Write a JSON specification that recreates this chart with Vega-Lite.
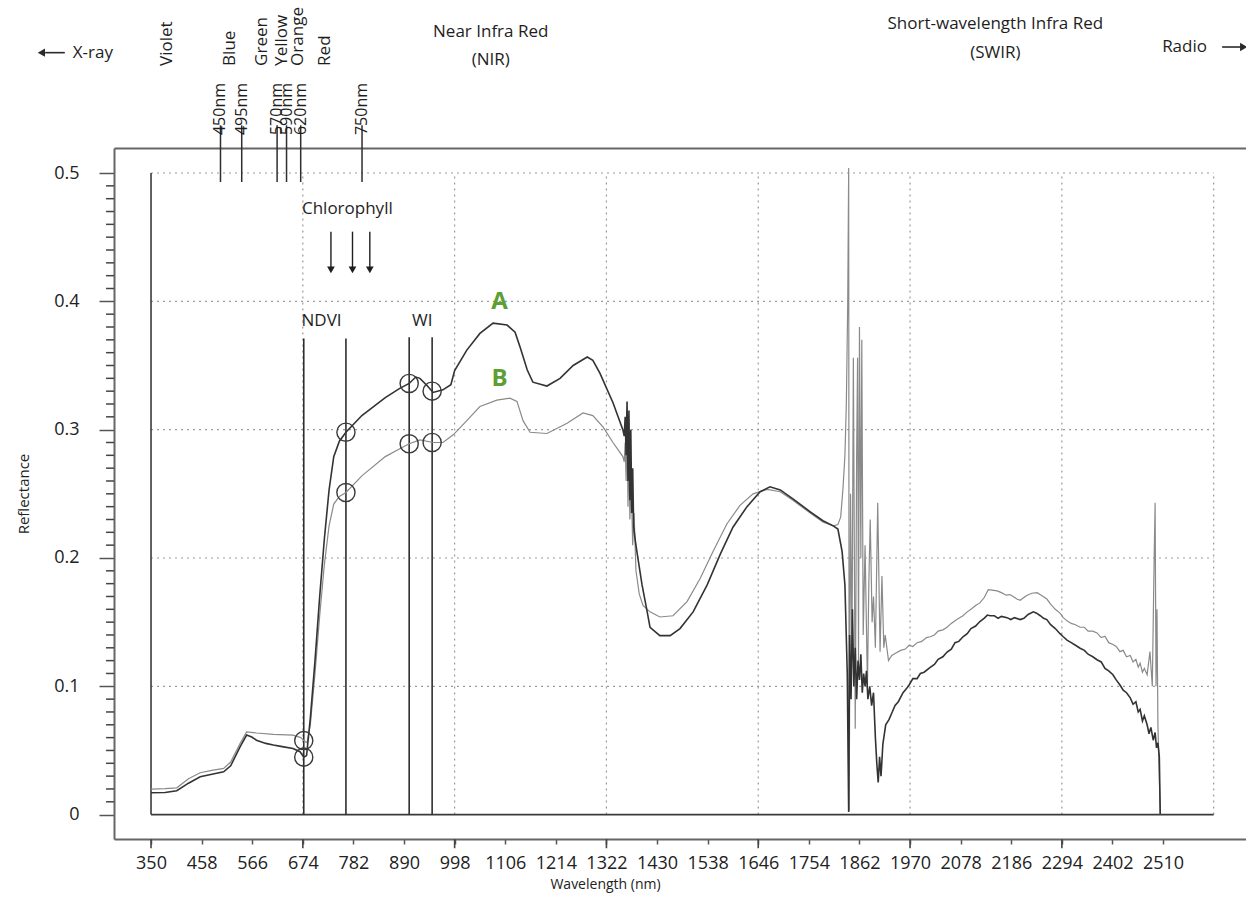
{
  "$schema": "https://vega.github.io/schema/vega-lite/v6.json",
  "width": 1132,
  "height": 691,
  "autosize": {"type": "none"},
  "padding": {"left": 114, "top": 148, "right": 0, "bottom": 62},
  "background": "white",
  "config": {
    "view": {"stroke": null},
    "font": "Open Sans",
    "axis": {
      "domainColor": "#666666",
      "domainWidth": 2,
      "tickColor": "#555555",
      "tickWidth": 1.5,
      "labelFont": "Open Sans",
      "titleFont": "Open Sans",
      "labelColor": "#222222",
      "titleColor": "#222222",
      "titleFontWeight": "normal",
      "grid": false
    }
  },
  "datasets": {
    "spectrumA": [
      {"w":350,"r":0.017},{"w":380,"r":0.0172},{"w":405,"r":0.0186},{"w":430,"r":0.0245},
      {"w":455,"r":0.0295},{"w":480,"r":0.0315},{"w":505,"r":0.0334},{"w":520,"r":0.038},
      {"w":540,"r":0.0528},{"w":554,"r":0.062},{"w":565,"r":0.0605},{"w":575,"r":0.058},
      {"w":595,"r":0.0555},{"w":611,"r":0.0542},{"w":630,"r":0.053},{"w":653,"r":0.0516},
      {"w":668,"r":0.049},{"w":676,"r":0.0448},{"w":682,"r":0.046},{"w":690,"r":0.075},
      {"w":700,"r":0.12},{"w":710,"r":0.17},{"w":720,"r":0.215},{"w":730,"r":0.253},
      {"w":740,"r":0.279},{"w":752,"r":0.291},{"w":766,"r":0.298},{"w":800,"r":0.311},
      {"w":850,"r":0.325},{"w":880,"r":0.332},{"w":901,"r":0.336},{"w":915,"r":0.341},
      {"w":924,"r":0.34},{"w":940,"r":0.334},{"w":952,"r":0.329},{"w":973,"r":0.331},
      {"w":990,"r":0.335},{"w":998,"r":0.346},{"w":1024,"r":0.362},{"w":1052,"r":0.375},
      {"w":1080,"r":0.383},{"w":1110,"r":0.3815},{"w":1127,"r":0.376},{"w":1138,"r":0.364},
      {"w":1153,"r":0.3465},{"w":1165,"r":0.337},{"w":1195,"r":0.334},{"w":1223,"r":0.34},
      {"w":1251,"r":0.35},{"w":1281,"r":0.3566},{"w":1293,"r":0.354},{"w":1308,"r":0.344},
      {"w":1336,"r":0.321},{"w":1357,"r":0.3},{"w":1360,"r":0.295},{"w":1362,"r":0.31},
      {"w":1364,"r":0.28},{"w":1366,"r":0.322},{"w":1368,"r":0.26},{"w":1370,"r":0.315},
      {"w":1372,"r":0.245},{"w":1374,"r":0.3},{"w":1376,"r":0.235},{"w":1378,"r":0.27},
      {"w":1380,"r":0.225},{"w":1383,"r":0.215},{"w":1387,"r":0.205},{"w":1398,"r":0.179},
      {"w":1409,"r":0.158},{"w":1415,"r":0.146},{"w":1436,"r":0.1395},{"w":1458,"r":0.1395},
      {"w":1479,"r":0.145},{"w":1507,"r":0.158},{"w":1537,"r":0.179},{"w":1565,"r":0.203},
      {"w":1592,"r":0.224},{"w":1622,"r":0.24},{"w":1650,"r":0.2516},{"w":1671,"r":0.2555},
      {"w":1693,"r":0.253},{"w":1720,"r":0.246},{"w":1757,"r":0.236},{"w":1784,"r":0.229},
      {"w":1806,"r":0.225},{"w":1816,"r":0.2226},{"w":1825,"r":0.205},{"w":1831,"r":0.179},
      {"w":1836,"r":0.11},{"w":1839,"r":0.002},{"w":1841,"r":0.14},{"w":1844,"r":0.09},
      {"w":1847,"r":0.16},{"w":1850,"r":0.1},{"w":1853,"r":0.13},{"w":1856,"r":0.09},
      {"w":1859,"r":0.12},{"w":1862,"r":0.105},{"w":1865,"r":0.125},{"w":1868,"r":0.095},
      {"w":1871,"r":0.11},{"w":1874,"r":0.1},{"w":1877,"r":0.112},{"w":1880,"r":0.09},
      {"w":1884,"r":0.1},{"w":1888,"r":0.085},{"w":1892,"r":0.095},{"w":1896,"r":0.06},
      {"w":1899,"r":0.04},{"w":1902,"r":0.025},{"w":1905,"r":0.045},{"w":1908,"r":0.03},
      {"w":1912,"r":0.055},{"w":1918,"r":0.07},{"w":1925,"r":0.074},{"w":1932,"r":0.08},
      {"w":1938,"r":0.085},{"w":1945,"r":0.088},{"w":1955,"r":0.095},{"w":1962,"r":0.098},
      {"w":1968,"r":0.101},{"w":1976,"r":0.106},{"w":1985,"r":0.106},{"w":1992,"r":0.11},
      {"w":2000,"r":0.111},{"w":2013,"r":0.1148},{"w":2022,"r":0.117},{"w":2030,"r":0.121},
      {"w":2040,"r":0.123},{"w":2049,"r":0.1267},{"w":2058,"r":0.129},{"w":2066,"r":0.134},
      {"w":2074,"r":0.135},{"w":2083,"r":0.1386},{"w":2092,"r":0.141},{"w":2100,"r":0.145},
      {"w":2110,"r":0.147},{"w":2119,"r":0.1505},{"w":2128,"r":0.153},{"w":2135,"r":0.1555},
      {"w":2141,"r":0.155},{"w":2150,"r":0.155},{"w":2158,"r":0.153},{"w":2165,"r":0.1545},
      {"w":2177,"r":0.1535},{"w":2185,"r":0.152},{"w":2193,"r":0.1535},{"w":2205,"r":0.152},
      {"w":2213,"r":0.153},{"w":2222,"r":0.156},{"w":2233,"r":0.158},{"w":2240,"r":0.157},
      {"w":2248,"r":0.155},{"w":2255,"r":0.153},{"w":2262,"r":0.152},{"w":2270,"r":0.148},
      {"w":2280,"r":0.145},{"w":2290,"r":0.141},{"w":2297,"r":0.1386},{"w":2305,"r":0.136},
      {"w":2314,"r":0.134},{"w":2323,"r":0.132},{"w":2333,"r":0.1297},{"w":2342,"r":0.128},
      {"w":2350,"r":0.125},{"w":2360,"r":0.123},{"w":2369,"r":0.1207},{"w":2378,"r":0.119},
      {"w":2386,"r":0.114},{"w":2394,"r":0.112},{"w":2403,"r":0.109},{"w":2410,"r":0.105},
      {"w":2418,"r":0.101},{"w":2425,"r":0.097},{"w":2432,"r":0.095},{"w":2440,"r":0.091},
      {"w":2446,"r":0.086},{"w":2452,"r":0.088},{"w":2457,"r":0.08},{"w":2461,"r":0.082},
      {"w":2466,"r":0.073},{"w":2470,"r":0.077},{"w":2476,"r":0.07},{"w":2480,"r":0.063},
      {"w":2484,"r":0.068},{"w":2489,"r":0.058},{"w":2493,"r":0.064},{"w":2496,"r":0.052},
      {"w":2499,"r":0.056},{"w":2502,"r":0.045},{"w":2504,"r":0.0}
    ],
    "spectrumB": [
      {"w":350,"r":0.0199},{"w":380,"r":0.0202},{"w":405,"r":0.0209},{"w":430,"r":0.028},
      {"w":455,"r":0.0326},{"w":480,"r":0.0345},{"w":505,"r":0.036},{"w":520,"r":0.041},
      {"w":540,"r":0.0554},{"w":554,"r":0.0645},{"w":575,"r":0.0636},{"w":611,"r":0.0625},
      {"w":653,"r":0.0619},{"w":670,"r":0.06},{"w":676,"r":0.0577},{"w":683,"r":0.056},
      {"w":690,"r":0.07},{"w":700,"r":0.11},{"w":710,"r":0.155},{"w":720,"r":0.195},
      {"w":730,"r":0.225},{"w":740,"r":0.242},{"w":752,"r":0.248},{"w":766,"r":0.251},
      {"w":800,"r":0.264},{"w":850,"r":0.279},{"w":880,"r":0.285},{"w":901,"r":0.289},
      {"w":924,"r":0.292},{"w":952,"r":0.29},{"w":973,"r":0.29},{"w":995,"r":0.296},
      {"w":1024,"r":0.307},{"w":1052,"r":0.318},{"w":1088,"r":0.323},{"w":1116,"r":0.3245},
      {"w":1131,"r":0.322},{"w":1144,"r":0.307},{"w":1159,"r":0.298},{"w":1195,"r":0.297},
      {"w":1238,"r":0.305},{"w":1272,"r":0.313},{"w":1293,"r":0.311},{"w":1315,"r":0.302},
      {"w":1336,"r":0.29},{"w":1357,"r":0.279},{"w":1360,"r":0.275},{"w":1362,"r":0.29},
      {"w":1364,"r":0.26},{"w":1366,"r":0.3},{"w":1368,"r":0.24},{"w":1370,"r":0.285},
      {"w":1372,"r":0.23},{"w":1375,"r":0.26},{"w":1378,"r":0.21},{"w":1381,"r":0.235},
      {"w":1385,"r":0.19},{"w":1392,"r":0.172},{"w":1400,"r":0.163},{"w":1415,"r":0.158},
      {"w":1436,"r":0.154},{"w":1464,"r":0.155},{"w":1494,"r":0.166},{"w":1522,"r":0.184},
      {"w":1550,"r":0.2055},{"w":1579,"r":0.2265},{"w":1607,"r":0.241},{"w":1635,"r":0.25},
      {"w":1665,"r":0.2534},{"w":1693,"r":0.2516},{"w":1720,"r":0.245},{"w":1757,"r":0.235},
      {"w":1784,"r":0.228},{"w":1806,"r":0.225},{"w":1816,"r":0.226},{"w":1822,"r":0.232},
      {"w":1827,"r":0.255},{"w":1831,"r":0.28},{"w":1834,"r":0.32},{"w":1837,"r":0.4},
      {"w":1839,"r":0.504},{"w":1840,"r":0.003},{"w":1843,"r":0.25},{"w":1846,"r":0.12},
      {"w":1849,"r":0.356},{"w":1853,"r":0.067},{"w":1856,"r":0.28},{"w":1858,"r":0.356},
      {"w":1860,"r":0.12},{"w":1862,"r":0.38},{"w":1865,"r":0.2},{"w":1867,"r":0.37},
      {"w":1870,"r":0.14},{"w":1874,"r":0.21},{"w":1879,"r":0.1},{"w":1882,"r":0.18},
      {"w":1885,"r":0.23},{"w":1889,"r":0.15},{"w":1892,"r":0.17},{"w":1896,"r":0.13},
      {"w":1901,"r":0.243},{"w":1906,"r":0.127},{"w":1910,"r":0.186},{"w":1914,"r":0.13},
      {"w":1917,"r":0.14},{"w":1924,"r":0.12},{"w":1931,"r":0.124},{"w":1940,"r":0.126},
      {"w":1950,"r":0.128},{"w":1960,"r":0.129},{"w":1968,"r":0.132},{"w":1976,"r":0.131},
      {"w":1985,"r":0.134},{"w":1995,"r":0.135},{"w":2005,"r":0.138},{"w":2013,"r":0.1386},
      {"w":2022,"r":0.14},{"w":2030,"r":0.143},{"w":2040,"r":0.144},{"w":2049,"r":0.146},
      {"w":2058,"r":0.149},{"w":2066,"r":0.151},{"w":2074,"r":0.153},{"w":2083,"r":0.155},
      {"w":2092,"r":0.158},{"w":2100,"r":0.16},{"w":2110,"r":0.163},{"w":2119,"r":0.165},
      {"w":2128,"r":0.169},{"w":2137,"r":0.1753},{"w":2145,"r":0.175},{"w":2156,"r":0.1744},
      {"w":2165,"r":0.173},{"w":2175,"r":0.171},{"w":2183,"r":0.1715},{"w":2190,"r":0.17},
      {"w":2198,"r":0.168},{"w":2205,"r":0.167},{"w":2212,"r":0.169},{"w":2220,"r":0.171},
      {"w":2230,"r":0.1725},{"w":2241,"r":0.173},{"w":2250,"r":0.171},{"w":2262,"r":0.168},
      {"w":2270,"r":0.164},{"w":2280,"r":0.16},{"w":2290,"r":0.157},{"w":2297,"r":0.1535},
      {"w":2305,"r":0.151},{"w":2314,"r":0.149},{"w":2323,"r":0.148},{"w":2333,"r":0.146},
      {"w":2342,"r":0.146},{"w":2350,"r":0.143},{"w":2360,"r":0.143},{"w":2369,"r":0.1416},
      {"w":2378,"r":0.138},{"w":2386,"r":0.139},{"w":2394,"r":0.134},{"w":2403,"r":0.1326},
      {"w":2410,"r":0.131},{"w":2418,"r":0.127},{"w":2425,"r":0.128},{"w":2432,"r":0.123},
      {"w":2440,"r":0.124},{"w":2446,"r":0.119},{"w":2452,"r":0.121},{"w":2457,"r":0.115},
      {"w":2461,"r":0.118},{"w":2466,"r":0.111},{"w":2470,"r":0.114},{"w":2476,"r":0.109},
      {"w":2482,"r":0.127},{"w":2487,"r":0.1},{"w":2491,"r":0.2},{"w":2493,"r":0.243},
      {"w":2495,"r":0.1},{"w":2497,"r":0.16},{"w":2499,"r":0.07},{"w":2504,"r":0.0}
    ],
    "gridH": [
      {"v":0.1,"w0":350,"w1":2618},{"v":0.2,"w0":350,"w1":2618},{"v":0.3,"w0":350,"w1":2618},
      {"v":0.4,"w0":350,"w1":2618},{"v":0.5,"w0":350,"w1":2618}
    ],
    "gridV": [
      {"w":674,"r0":0,"r1":0.5},{"w":998,"r0":0,"r1":0.5},{"w":1322,"r0":0,"r1":0.5},{"w":1646,"r0":0,"r1":0.5},
      {"w":1970,"r0":0,"r1":0.5},{"w":2294,"r0":0,"r1":0.5},{"w":2618,"r0":0,"r1":0.5}
    ],
    "minorTicksY": [
      {"v":0.01,"a":254,"b":271},{"v":0.02,"a":254,"b":271},{"v":0.03,"a":254,"b":271},{"v":0.04,"a":254,"b":271},
      {"v":0.05,"a":254,"b":271},{"v":0.06,"a":254,"b":271},{"v":0.07,"a":254,"b":271},{"v":0.08,"a":254,"b":271},
      {"v":0.09,"a":254,"b":271},{"v":0.11,"a":254,"b":271},{"v":0.12,"a":254,"b":271},{"v":0.13,"a":254,"b":271},
      {"v":0.14,"a":254,"b":271},{"v":0.15,"a":254,"b":271},{"v":0.16,"a":254,"b":271},{"v":0.17,"a":254,"b":271},
      {"v":0.18,"a":254,"b":271},{"v":0.19,"a":254,"b":271},{"v":0.21,"a":254,"b":271},{"v":0.22,"a":254,"b":271},
      {"v":0.23,"a":254,"b":271},{"v":0.24,"a":254,"b":271},{"v":0.25,"a":254,"b":271},{"v":0.26,"a":254,"b":271},
      {"v":0.27,"a":254,"b":271},{"v":0.28,"a":254,"b":271},{"v":0.29,"a":254,"b":271},{"v":0.31,"a":254,"b":271},
      {"v":0.32,"a":254,"b":271},{"v":0.33,"a":254,"b":271},{"v":0.34,"a":254,"b":271},{"v":0.35,"a":254,"b":271},
      {"v":0.36,"a":254,"b":271},{"v":0.37,"a":254,"b":271},{"v":0.38,"a":254,"b":271},{"v":0.39,"a":254,"b":271},
      {"v":0.41,"a":254,"b":271},{"v":0.42,"a":254,"b":271},{"v":0.43,"a":254,"b":271},{"v":0.44,"a":254,"b":271},
      {"v":0.45,"a":254,"b":271},{"v":0.46,"a":254,"b":271},{"v":0.47,"a":254,"b":271},{"v":0.48,"a":254,"b":271},
      {"v":0.49,"a":254,"b":271}
    ],
    "majorTicksX": [
      {"w":350,"a":-0.019,"b":-0.0262},{"w":674,"a":-0.019,"b":-0.0262},{"w":998,"a":-0.019,"b":-0.0262},
      {"w":1322,"a":-0.019,"b":-0.0262},{"w":1646,"a":-0.019,"b":-0.0262},{"w":1970,"a":-0.019,"b":-0.0262},
      {"w":2294,"a":-0.019,"b":-0.0262}
    ],
    "plotEdges": [{"w0":350,"w1":2618,"r0":0,"r1":0.5}],
    "indexLines": [
      {"w":676,"r0":0,"top":0.371},{"w":766,"r0":0,"top":0.371},
      {"w":901,"r0":0,"top":0.372},{"w":950,"r0":0,"top":0.372}
    ],
    "circles": [
      {"s":"B","w":676,"r":0.0577},{"s":"A","w":676,"r":0.0448},
      {"s":"A","w":766,"r":0.298},{"s":"B","w":766,"r":0.251},
      {"s":"A","w":901,"r":0.336},{"s":"B","w":901,"r":0.289},
      {"s":"A","w":950,"r":0.33},{"s":"B","w":950,"r":0.29}
    ],
    "notes": [
      {"t":"NDVI","w":714,"r":0.385},
      {"t":"WI","w":929,"r":0.385},
      {"t":"Chlorophyll","w":769,"r":0.4716}
    ],
    "arrows": [
      {"w":734,"r0":0.4543,"r1":0.426,"tip":0.4245},
      {"w":780,"r0":0.4543,"r1":0.426,"tip":0.4245},
      {"w":817,"r0":0.4543,"r1":0.426,"tip":0.4245}
    ],
    "curveLabels": [{"t":"A","w":1094,"r":0.3997},{"t":"B","w":1094,"r":0.3394}],
    "regions": [
      {"t":"Near Infra Red","w":1075,"r":0.6099},
      {"t":"(NIR)","w":1075,"r":0.5877},
      {"t":"Short-wavelength Infra Red","w":2152,"r":0.6158},
      {"t":"(SWIR)","w":2152,"r":0.5932}
    ],
    "ends": [{"t":"X-ray","w":183,"r":0.5938},{"t":"Radio","w":2508,"r":0.5982}],
    "endArrows": [{"w":124,"w2":166,"r":0.5938},{"w":2636,"w2":2684,"r":0.5982}],
    "headLeft": [{"w":116,"r":0.5938}],
    "headRight": [{"w":2682,"r":0.5982}],
    "nmTicks": [
      {"nm":450,"label":"450nm","r0":0.5372,"r1":0.493,"rt":0.5296},
      {"nm":495,"label":"495nm","r0":0.5372,"r1":0.493,"rt":0.5296},
      {"nm":570,"label":"570nm","r0":0.5372,"r1":0.493,"rt":0.5296},
      {"nm":590,"label":"590nm","r0":0.5372,"r1":0.493,"rt":0.5296},
      {"nm":620,"label":"620nm","r0":0.5372,"r1":0.493,"rt":0.5296},
      {"nm":750,"label":"750nm","r0":0.5372,"r1":0.493,"rt":0.5296}
    ],
    "colourNames": [
      {"name":"Violet","c":336,"r":0.5835},{"name":"Blue","c":470,"r":0.5835},{"name":"Green","c":537,"r":0.5835},
      {"name":"Yellow","c":580,"r":0.5835},{"name":"Orange","c":615,"r":0.5835},{"name":"Red","c":671,"r":0.5835}
    ]
  },
  "resolve": {"scale": {"x": "independent"}, "axis": {"x": "independent", "y": "independent"}},
  "layer": [
    {
      "data": {"name": "gridH"},
      "mark": {"type": "rule", "color": "#9a9a9a", "strokeWidth": 1.2, "strokeDash": [2, 4]},
      "encoding": {
        "x": {"field": "w0", "type": "quantitative", "scale": {"domain": [271, 2687], "nice": false, "zero": false}, "axis": null},
        "x2": {"field": "w1"},
        "y": {"field": "v", "type": "quantitative",
              "scale": {"domain": [-0.019, 0.5195], "nice": false, "zero": false}, "axis": null}
      }
    },
    {
      "data": {"name": "gridV"},
      "mark": {"type": "rule", "color": "#9a9a9a", "strokeWidth": 1.2, "strokeDash": [2, 4]},
      "encoding": {
        "x": {"field": "w", "type": "quantitative", "scale": {"domain": [271, 2687], "nice": false, "zero": false}, "axis": null},
        "y": {"field": "r0", "type": "quantitative", "axis": null},
        "y2": {"field": "r1"}
      }
    },
    {
      "data": {"name": "minorTicksY"},
      "mark": {"type": "rule", "color": "#444444", "strokeWidth": 1.5},
      "encoding": {
        "x": {"field": "a", "type": "quantitative", "scale": {"domain": [271, 2687], "nice": false, "zero": false}, "axis": null},
        "x2": {"field": "b"},
        "y": {"field": "v", "type": "quantitative", "axis": null}
      }
    },
    {
      "data": {"name": "majorTicksX"},
      "mark": {"type": "rule", "color": "#444444", "strokeWidth": 1.6},
      "encoding": {
        "x": {"field": "w", "type": "quantitative", "scale": {"domain": [271, 2687], "nice": false, "zero": false}, "axis": null},
        "y": {"field": "a", "type": "quantitative", "axis": null},
        "y2": {"field": "b"}
      }
    },
    {
      "data": {"name": "plotEdges"},
      "mark": {"type": "rule", "color": "#3a3a3a", "strokeWidth": 1.6},
      "encoding": {
        "x": {"field": "w0", "type": "quantitative", "scale": {"domain": [271, 2687], "nice": false, "zero": false},
              "axis": {"orient": "top", "ticks": false, "labels": false, "domain": true, "title": null}},
        "y": {"field": "r0", "type": "quantitative", "axis": null},
        "y2": {"field": "r1"}
      }
    },
    {
      "data": {"name": "plotEdges"},
      "mark": {"type": "rule", "color": "#3a3a3a", "strokeWidth": 1.6},
      "encoding": {
        "x": {"field": "w0", "type": "quantitative", "scale": {"domain": [271, 2687], "nice": false, "zero": false}, "axis": null},
        "x2": {"field": "w1"},
        "y": {"field": "r0", "type": "quantitative", "axis": null}
      }
    },
    {
      "data": {"name": "indexLines"},
      "mark": {"type": "rule", "color": "#2e2e2e", "strokeWidth": 1.6},
      "encoding": {
        "x": {"field": "w", "type": "quantitative", "scale": {"domain": [271, 2687], "nice": false, "zero": false}, "axis": null},
        "y": {"field": "r0", "type": "quantitative", "axis": null},
        "y2": {"field": "top"}
      }
    },
    {
      "data": {"name": "spectrumB"},
      "mark": {"type": "line", "color": "#8a8a8a", "strokeWidth": 1.2},
      "encoding": {
        "x": {"field": "w", "type": "quantitative", "scale": {"domain": [271, 2687], "nice": false, "zero": false}, "axis": null},
        "y": {"field": "r", "type": "quantitative", "axis": null}
      }
    },
    {
      "data": {"name": "spectrumA"},
      "mark": {"type": "line", "color": "#333333", "strokeWidth": 1.6},
      "encoding": {
        "x": {"field": "w", "type": "quantitative",
              "scale": {"domain": [271, 2687], "nice": false, "zero": false},
              "axis": {"orient": "bottom", "values": [350,458,566,674,782,890,998,1106,1214,1322,1430,1538,1646,1754,1862,1970,2078,2186,2294,2402,2510],
                       "format": "d", "tickSize": 5, "labelFontSize": 18, "labelPadding": 10, "labelOverlap": false, "labelFlush": false,
                       "title": "Wavelength (nm)", "titleFontSize": 14, "titlePadding": 5, "titleX": 491}},
        "y": {"field": "r", "type": "quantitative",
              "axis": {"orient": "left", "values": [0, 0.1, 0.2, 0.3, 0.4, 0.5], "format": "~g",
                       "tickSize": 15, "labelFontSize": 18, "labelPadding": 20, "labelOverlap": false, "labelFlush": false,
                       "title": "Reflectance", "titleFontSize": 15, "titlePadding": 22}}
      }
    },
    {
      "data": {"name": "circles"},
      "mark": {"type": "point", "shape": "circle", "filled": false, "size": 330, "stroke": "#3a3a3a", "strokeWidth": 1.4, "opacity": 1},
      "encoding": {
        "x": {"field": "w", "type": "quantitative", "scale": {"domain": [271, 2687], "nice": false, "zero": false}, "axis": null},
        "y": {"field": "r", "type": "quantitative", "axis": null}
      }
    },
    {
      "data": {"name": "notes"},
      "mark": {"type": "text", "fontSize": 17, "align": "center", "baseline": "middle", "color": "#1e1e1e"},
      "encoding": {
        "x": {"field": "w", "type": "quantitative", "scale": {"domain": [271, 2687], "nice": false, "zero": false}, "axis": null},
        "y": {"field": "r", "type": "quantitative", "axis": null},
        "text": {"field": "t", "type": "nominal"}
      }
    },
    {
      "data": {"name": "arrows"},
      "mark": {"type": "rule", "color": "#1e1e1e", "strokeWidth": 1.4},
      "encoding": {
        "x": {"field": "w", "type": "quantitative", "scale": {"domain": [271, 2687], "nice": false, "zero": false}, "axis": null},
        "y": {"field": "r0", "type": "quantitative", "axis": null},
        "y2": {"field": "r1"}
      }
    },
    {
      "data": {"name": "arrows"},
      "mark": {"type": "point", "shape": "triangle-down", "filled": true, "size": 60, "color": "#1e1e1e", "opacity": 1},
      "encoding": {
        "x": {"field": "w", "type": "quantitative", "scale": {"domain": [271, 2687], "nice": false, "zero": false}, "axis": null},
        "y": {"field": "tip", "type": "quantitative", "axis": null}
      }
    },
    {
      "data": {"name": "curveLabels"},
      "mark": {"type": "text", "fontSize": 24, "fontWeight": "bold", "align": "center", "baseline": "middle", "color": "#5e9e32"},
      "encoding": {
        "x": {"field": "w", "type": "quantitative", "scale": {"domain": [271, 2687], "nice": false, "zero": false}, "axis": null},
        "y": {"field": "r", "type": "quantitative", "axis": null},
        "text": {"field": "t", "type": "nominal"}
      }
    },
    {
      "data": {"name": "regions"},
      "mark": {"type": "text", "fontSize": 17, "align": "center", "baseline": "middle", "color": "#1e1e1e"},
      "encoding": {
        "x": {"field": "w", "type": "quantitative", "scale": {"domain": [271, 2687], "nice": false, "zero": false}, "axis": null},
        "y": {"field": "r", "type": "quantitative", "axis": null},
        "text": {"field": "t", "type": "nominal"}
      }
    },
    {
      "data": {"name": "ends"},
      "mark": {"type": "text", "fontSize": 17, "align": "left", "baseline": "middle", "color": "#1e1e1e"},
      "encoding": {
        "x": {"field": "w", "type": "quantitative", "scale": {"domain": [271, 2687], "nice": false, "zero": false}, "axis": null},
        "y": {"field": "r", "type": "quantitative", "axis": null},
        "text": {"field": "t", "type": "nominal"}
      }
    },
    {
      "data": {"name": "endArrows"},
      "mark": {"type": "rule", "color": "#2a2a2a", "strokeWidth": 1.6},
      "encoding": {
        "x": {"field": "w", "type": "quantitative", "scale": {"domain": [271, 2687], "nice": false, "zero": false}, "axis": null},
        "x2": {"field": "w2"},
        "y": {"field": "r", "type": "quantitative", "axis": null}
      }
    },
    {
      "data": {"name": "headLeft"},
      "mark": {"type": "point", "shape": "triangle-left", "filled": true, "size": 70, "color": "#2a2a2a", "opacity": 1},
      "encoding": {
        "x": {"field": "w", "type": "quantitative", "scale": {"domain": [271, 2687], "nice": false, "zero": false}, "axis": null},
        "y": {"field": "r", "type": "quantitative", "axis": null}
      }
    },
    {
      "data": {"name": "headRight"},
      "mark": {"type": "point", "shape": "triangle-right", "filled": true, "size": 70, "color": "#2a2a2a", "opacity": 1},
      "encoding": {
        "x": {"field": "w", "type": "quantitative", "scale": {"domain": [271, 2687], "nice": false, "zero": false}, "axis": null},
        "y": {"field": "r", "type": "quantitative", "axis": null}
      }
    },
    {
      "data": {"name": "nmTicks"},
      "mark": {"type": "rule", "color": "#2e2e2e", "strokeWidth": 1.5},
      "encoding": {
        "x": {"field": "nm", "type": "quantitative", "scale": {"domain": [224.3, 2623.6], "nice": false, "zero": false}, "axis": null},
        "y": {"field": "r0", "type": "quantitative", "axis": null},
        "y2": {"field": "r1"}
      }
    },
    {
      "data": {"name": "nmTicks"},
      "mark": {"type": "text", "angle": 270, "align": "left", "baseline": "middle", "fontSize": 16, "color": "#1e1e1e"},
      "encoding": {
        "x": {"field": "nm", "type": "quantitative", "scale": {"domain": [224.3, 2623.6], "nice": false, "zero": false}, "axis": null},
        "y": {"field": "rt", "type": "quantitative", "axis": null},
        "text": {"field": "label", "type": "nominal"}
      }
    },
    {
      "data": {"name": "colourNames"},
      "mark": {"type": "text", "angle": 270, "align": "left", "baseline": "middle", "fontSize": 17, "color": "#1e1e1e"},
      "encoding": {
        "x": {"field": "c", "type": "quantitative", "scale": {"domain": [224.3, 2623.6], "nice": false, "zero": false}, "axis": null},
        "y": {"field": "r", "type": "quantitative", "axis": null},
        "text": {"field": "name", "type": "nominal"}
      }
    }
  ]
}
